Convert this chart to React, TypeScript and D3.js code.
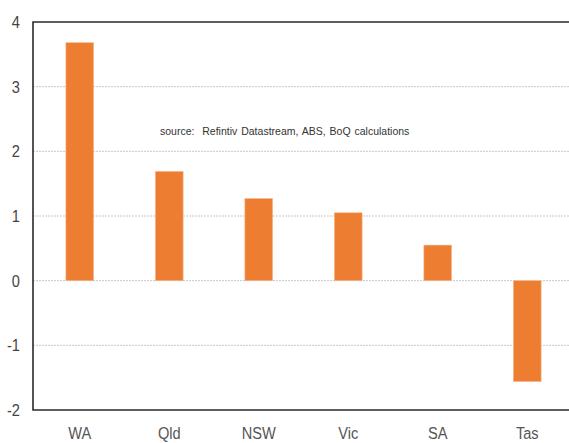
import { useEffect, useRef } from 'react';
import * as d3 from 'd3';

const states = ['WA', 'Qld', 'NSW', 'Vic', 'SA', 'Tas'];
const values = [3.68, 1.69, 1.27, 1.05, 0.55, -1.56];
const yTicks = [-2, -1, 0, 1, 2, 3, 4];
const sourceNote = 'source:  Refintiv Datastream, ABS, BoQ calculations';

const W = 569;
const H = 443;
const FONT = '"Liberation Sans Narrow", "Liberation Sans", Arial, sans-serif';

export default function App() {
  const svgRef = useRef<SVGSVGElement>(null);

  useEffect(() => {
    if (!svgRef.current) return;
    const svg = d3.select(svgRef.current);
    svg.selectAll('*').remove();

    const left = 33;
    const top = 22;
    const bottom = 410;

    const x = d3.scaleBand<string>()
      .domain(states)
      .range([35, 572])
      .paddingInner(0.69)
      .paddingOuter(0.345);

    const y = d3.scaleLinear().domain([-2, 4]).range([bottom, top]);

    // gridlines
    svg.append('g')
      .selectAll('line')
      .data(yTicks.filter(t => t > -2 && t < 4))
      .enter()
      .append('line')
      .attr('x1', left)
      .attr('x2', W)
      .attr('y1', d => y(d))
      .attr('y2', d => y(d))
      .attr('stroke', '#c8c8c8')
      .attr('stroke-width', 1)
      .attr('stroke-dasharray', '2,1');

    // bars
    svg.append('g')
      .selectAll('rect')
      .data(values)
      .enter()
      .append('rect')
      .attr('x', (_, i) => x(states[i]) || 0)
      .attr('y', d => y(Math.max(0, d)))
      .attr('width', x.bandwidth())
      .attr('height', d => Math.abs(y(d) - y(0)))
      .attr('fill', '#ed7d31')
      .attr('stroke', '#f5b88f')
      .attr('stroke-width', 0.6);

    // frame (open on the right, chart runs past the edge)
    svg.append('path')
      .attr('d', `M${W},${top}H${left}V${bottom}H${W}`)
      .attr('fill', 'none')
      .attr('stroke', '#2a2a2a')
      .attr('stroke-width', 1.6);

    // y labels, squeezed a bit to look like a narrow face
    svg.append('g')
      .selectAll('text')
      .data(yTicks)
      .enter()
      .append('text')
      .attr('transform', d => `translate(20,${y(d)}) scale(0.86,1)`)
      .attr('dy', '0.36em')
      .attr('text-anchor', 'end')
      .attr('font-family', FONT)
      .attr('font-size', 17)
      .attr('fill', '#444')
      .text(d => String(d));

    // x labels
    svg.append('g')
      .selectAll('text')
      .data(states)
      .enter()
      .append('text')
      .attr('transform', d => `translate(${(x(d) || 0) + x.bandwidth() / 2},439) scale(0.86,1)`)
      .attr('text-anchor', 'middle')
      .attr('font-family', FONT)
      .attr('font-size', 17)
      .attr('fill', '#555')
      .text(d => d);

    svg.append('text')
      .attr('x', 160)
      .attr('y', 135)
      .attr('font-family', FONT)
      .attr('font-size', 10.5)
      .attr('fill', '#333')
      .attr('word-spacing', 1)
      .attr('xml:space', 'preserve')
      .text(sourceNote);
  }, []);

  return (
    <svg
      ref={svgRef}
      width={W}
      height={H}
      style={{ position: 'absolute', left: 0, top: 0, background: '#fff' }}
    />
  );
}
